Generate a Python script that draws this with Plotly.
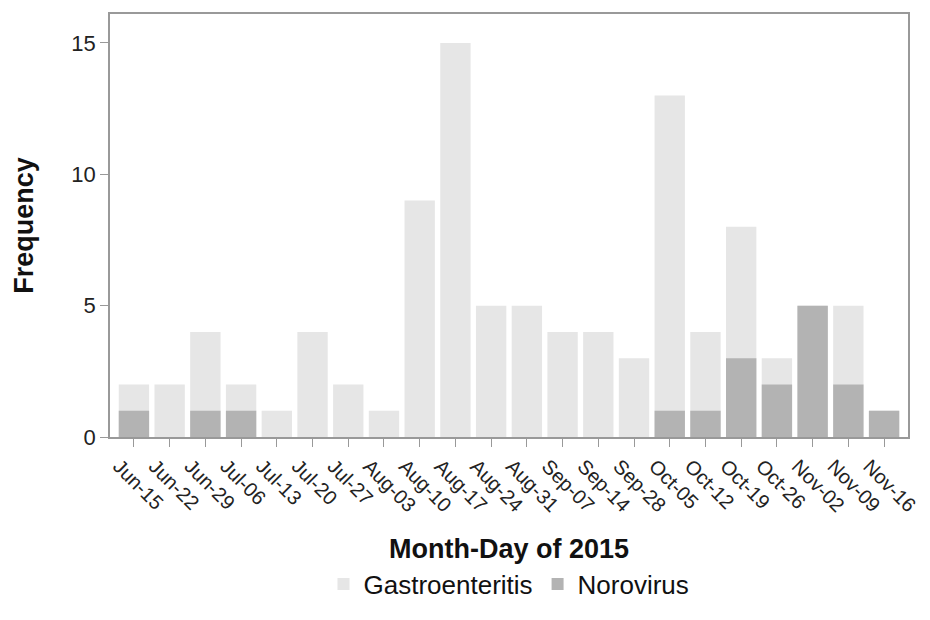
import plotly.graph_objects as go

weeks = ["Jun-15", "Jun-22", "Jun-29", "Jul-06", "Jul-13", "Jul-20", "Jul-27", "Aug-03",
         "Aug-10", "Aug-17", "Aug-24", "Aug-31", "Sep-07", "Sep-14", "Sep-28", "Oct-05",
         "Oct-12", "Oct-19", "Oct-26", "Nov-02", "Nov-09", "Nov-16"]
gastro = [2, 2, 4, 2, 1, 4, 2, 1, 9, 15, 5, 5, 4, 4, 3, 13, 4, 8, 3, 5, 5, 1]
noro = [1, 0, 1, 1, 0, 0, 0, 0, 0, 0, 0, 0, 0, 0, 0, 1, 1, 3, 2, 5, 2, 1]
y_ticks = [0, 5, 10, 15]

font_family = "Liberation Sans, Arial, sans-serif"

fig = go.Figure()
fig.add_trace(go.Bar(x=weeks, y=gastro, name="Gastroenteritis",
                     marker=dict(color="#e6e6e6", line=dict(width=0))))
fig.add_trace(go.Bar(x=weeks, y=noro, name="Norovirus",
                     marker=dict(color="#b3b3b3", line=dict(width=0))))

fig.update_layout(
    barmode="overlay",
    bargap=0.15,
    width=914, height=604,
    margin=dict(l=102, r=14, t=6, b=174),
    plot_bgcolor="white", paper_bgcolor="white",
    font=dict(family=font_family, color="#222222"),
    showlegend=True,
    legend=dict(orientation="h", x=0.5, xanchor="center", y=-0.40, yanchor="bottom",
                font=dict(size=26, color="#111111"), traceorder="normal"),
)
fig.update_xaxes(
    type="category", range=[-0.67, 21.67], automargin=False,
    tickangle=45, tickfont=dict(size=20, color="#222222"), ticklabelshift=-15,
    ticks="outside", ticklen=8, tickcolor="#999999",
    showline=True, linecolor="#999999", linewidth=1.5, mirror=True,
    showgrid=False,
    title=dict(text="<b>Month-Day of 2015</b>", font=dict(size=27, color="#111111"), standoff=24),
)
fig.update_yaxes(
    range=[0, 16.1], tickvals=y_ticks, automargin=False,
    tickfont=dict(size=22, color="#222222"),
    ticks="outside", ticklen=8, tickcolor="#999999",
    showline=True, linecolor="#999999", linewidth=1.5, mirror=True,
    showgrid=False, zeroline=False,
    title=dict(text="<b>Frequency</b>", font=dict(size=27, color="#111111"), standoff=30),
)

fig.write_html("out.html")
